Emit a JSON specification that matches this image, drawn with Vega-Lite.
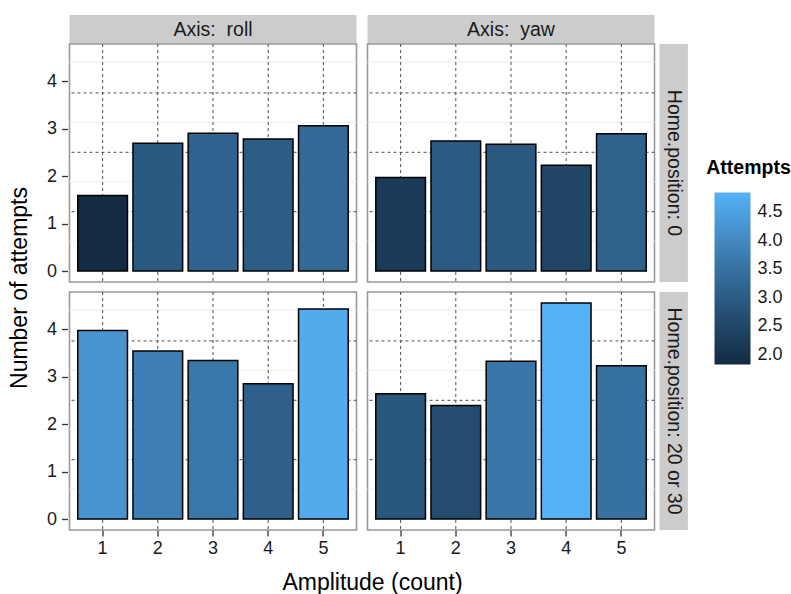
{
  "$schema": "https://vega.github.io/schema/vega-lite/v6.json",
  "padding": {"left": 7.5, "top": 15, "right": 0, "bottom": 0},
  "background": "white",
  "config": {
    "font": "Liberation Sans",
    "view": {"stroke": "#999999", "strokeWidth": 1.6},
    "axis": {"labelFontSize": 18, "labelColor": "#1a1a1a", "tickColor": "#333333", "tickWidth": 1.3, "domain": false, "grid": false, "titleFontSize": 23, "titleFontWeight": "normal", "titleColor": "#000000", "labelFont": "Liberation Sans", "titleFont": "Liberation Sans"},
    "legend": {"labelFont": "Liberation Sans", "titleFont": "Liberation Sans"}
  },
  "datasets": {
    "bars": [
      {"axis": "roll", "home": "0", "amp": 1, "attempts": 1.59},
      {"axis": "roll", "home": "0", "amp": 2, "attempts": 2.69},
      {"axis": "roll", "home": "0", "amp": 3, "attempts": 2.90},
      {"axis": "roll", "home": "0", "amp": 4, "attempts": 2.78},
      {"axis": "roll", "home": "0", "amp": 5, "attempts": 3.06},
      {"axis": "yaw", "home": "0", "amp": 1, "attempts": 1.97},
      {"axis": "yaw", "home": "0", "amp": 2, "attempts": 2.74},
      {"axis": "yaw", "home": "0", "amp": 3, "attempts": 2.67},
      {"axis": "yaw", "home": "0", "amp": 4, "attempts": 2.23},
      {"axis": "yaw", "home": "0", "amp": 5, "attempts": 2.89},
      {"axis": "roll", "home": "20 or 30", "amp": 1, "attempts": 3.97},
      {"axis": "roll", "home": "20 or 30", "amp": 2, "attempts": 3.54},
      {"axis": "roll", "home": "20 or 30", "amp": 3, "attempts": 3.34},
      {"axis": "roll", "home": "20 or 30", "amp": 4, "attempts": 2.85},
      {"axis": "roll", "home": "20 or 30", "amp": 5, "attempts": 4.42},
      {"axis": "yaw", "home": "20 or 30", "amp": 1, "attempts": 2.64},
      {"axis": "yaw", "home": "20 or 30", "amp": 2, "attempts": 2.39},
      {"axis": "yaw", "home": "20 or 30", "amp": 3, "attempts": 3.32},
      {"axis": "yaw", "home": "20 or 30", "amp": 4, "attempts": 4.55},
      {"axis": "yaw", "home": "20 or 30", "amp": 5, "attempts": 3.23}
    ],
    "hgrid": [{"g": 1.25}, {"g": 2.5}, {"g": 3.75}],
    "faint": [{"g": 0.63}, {"g": 1.88}, {"g": 3.13}, {"g": 4.4}]
  },
  "resolve": {"scale": {"fill": "shared"}, "legend": {"fill": "shared"}},
  "columns": 5,
  "spacing": 0,
  "bounds": "flush",
  "align": "each",
  "concat": [
    {"width": 287, "height": 29, "view": {"fill": "#cccccc"}, "data": {"values": [{"t": "Axis:\u00a0 roll"}]}, "mark": {"type": "text", "fontSize": 19.5, "color": "#1a1a1a"}, "encoding": {"text": {"field": "t", "type": "nominal"}}},
    {"width": 10.5, "height": 1, "view": {"stroke": null}, "data": {"values": []}, "mark": "point"},
    {"width": 287, "height": 29, "view": {"fill": "#cccccc"}, "data": {"values": [{"t": "Axis:\u00a0 yaw"}]}, "mark": {"type": "text", "fontSize": 19.5, "color": "#1a1a1a"}, "encoding": {"text": {"field": "t", "type": "nominal"}}},
    {"width": 4.3, "height": 1, "view": {"stroke": null}, "data": {"values": []}, "mark": "point"},
    {"width": 1, "height": 1, "view": {"stroke": null}, "data": {"values": []}, "mark": "point"},

    {"width": 287, "height": 238,
     "layer": [
      {"data": {"name": "faint"}, "mark": {"type": "rule", "stroke": "#f0f0f0", "strokeWidth": 1.2}, "encoding": {"y": {"field": "g", "type": "quantitative", "scale": {"domain": [-0.23, 4.78], "nice": false, "zero": false}, "axis": {"values": [0, 1, 2, 3, 4], "tickSize": 6, "offset": 2, "labelPadding": 5, "title": "Number of attempts", "titleX": -41, "titleY": 243.5, "titleAngle": 270, "titleAlign": "center", "titleBaseline": "alphabetic"}}}},
      {"data": {"name": "hgrid"}, "mark": {"type": "rule", "stroke": "#4d4d4d", "strokeDash": [3, 3], "strokeWidth": 1}, "encoding": {"y": {"field": "g", "type": "quantitative", "scale": {"domain": [-0.23, 4.78], "nice": false, "zero": false}, "axis": {"values": [0, 1, 2, 3, 4], "tickSize": 6, "offset": 2, "labelPadding": 5, "title": "Number of attempts", "titleX": -41, "titleY": 243.5, "titleAngle": 270, "titleAlign": "center", "titleBaseline": "alphabetic"}}}},
      {"data": {"name": "bars"}, "transform": [{"filter": "datum.axis === 'roll' && datum.home === '0'"}], "mark": {"type": "rule", "stroke": "#4d4d4d", "strokeDash": [3, 3], "strokeWidth": 1}, "encoding": {"x": {"field": "amp", "type": "ordinal", "scale": {"domain": [1, 2, 3, 4, 5], "paddingInner": 0.1, "paddingOuter": 0.15}, "axis": null}}},
      {"data": {"name": "bars"}, "transform": [{"filter": "datum.axis === 'roll' && datum.home === '0'"}], "mark": {"type": "bar", "stroke": "#000000", "strokeWidth": 1.5},
       "encoding": {
        "x": {"field": "amp", "type": "ordinal", "scale": {"domain": [1, 2, 3, 4, 5], "paddingInner": 0.1, "paddingOuter": 0.15}, "axis": null},
        "y": {"field": "attempts", "type": "quantitative", "scale": {"domain": [-0.23, 4.78], "nice": false, "zero": false}, "axis": {"values": [0, 1, 2, 3, 4], "tickSize": 6, "offset": 2, "labelPadding": 5, "title": "Number of attempts", "titleX": -41, "titleY": 243.5, "titleAngle": 270, "titleAlign": "center", "titleBaseline": "alphabetic"}},
        "y2": {"datum": 0},
        "fill": {"field": "attempts", "type": "quantitative", "scale": {"domain": [1.59, 4.55], "range": ["#132B43", "#56B1F7"], "interpolate": "lab", "nice": false, "zero": false}, "legend": {"title": "Attempts", "orient": "none", "legendX": 637, "legendY": 144, "values": [1.76, 2.25, 2.74, 3.23, 3.72, 4.22], "labelExpr": "format(datum.value + 0.26, '.1f')", "gradientLength": 172, "gradientThickness": 36, "gradientStrokeWidth": 0, "titleFontSize": 19.5, "titleFontWeight": "bold", "titleColor": "#000000", "titleAnchor": "middle", "titlePadding": 14, "labelFontSize": 18, "labelColor": "#1a1a1a", "labelOffset": 7, "labelOverlap": false}}
       }}
     ]},
    {"width": 10.5, "height": 1, "view": {"stroke": null}, "data": {"values": []}, "mark": "point"},
    {"width": 287, "height": 238,
     "layer": [
      {"data": {"name": "faint"}, "mark": {"type": "rule", "stroke": "#f0f0f0", "strokeWidth": 1.2}, "encoding": {"y": {"field": "g", "type": "quantitative", "scale": {"domain": [-0.23, 4.78], "nice": false, "zero": false}, "axis": null}}},
      {"data": {"name": "hgrid"}, "mark": {"type": "rule", "stroke": "#4d4d4d", "strokeDash": [3, 3], "strokeWidth": 1}, "encoding": {"y": {"field": "g", "type": "quantitative", "scale": {"domain": [-0.23, 4.78], "nice": false, "zero": false}, "axis": null}}},
      {"data": {"name": "bars"}, "transform": [{"filter": "datum.axis === 'yaw' && datum.home === '0'"}], "mark": {"type": "rule", "stroke": "#4d4d4d", "strokeDash": [3, 3], "strokeWidth": 1}, "encoding": {"x": {"field": "amp", "type": "ordinal", "scale": {"domain": [1, 2, 3, 4, 5], "paddingInner": 0.1, "paddingOuter": 0.15}, "axis": null}}},
      {"data": {"name": "bars"}, "transform": [{"filter": "datum.axis === 'yaw' && datum.home === '0'"}], "mark": {"type": "bar", "stroke": "#000000", "strokeWidth": 1.5},
       "encoding": {
        "x": {"field": "amp", "type": "ordinal", "scale": {"domain": [1, 2, 3, 4, 5], "paddingInner": 0.1, "paddingOuter": 0.15}, "axis": null},
        "y": {"field": "attempts", "type": "quantitative", "scale": {"domain": [-0.23, 4.78], "nice": false, "zero": false}, "axis": null},
        "y2": {"datum": 0},
        "fill": {"field": "attempts", "type": "quantitative", "scale": {"domain": [1.59, 4.55], "range": ["#132B43", "#56B1F7"], "interpolate": "lab", "nice": false, "zero": false}, "legend": {"title": "Attempts", "orient": "none", "legendX": 637, "legendY": 144, "values": [1.76, 2.25, 2.74, 3.23, 3.72, 4.22], "labelExpr": "format(datum.value + 0.26, '.1f')", "gradientLength": 172, "gradientThickness": 36, "gradientStrokeWidth": 0, "titleFontSize": 19.5, "titleFontWeight": "bold", "titleColor": "#000000", "titleAnchor": "middle", "titlePadding": 14, "labelFontSize": 18, "labelColor": "#1a1a1a", "labelOffset": 7, "labelOverlap": false}}
       }}
     ]},
    {"width": 4.3, "height": 1, "view": {"stroke": null}, "data": {"values": []}, "mark": "point"},
    {"width": 28.4, "height": 238, "view": {"fill": "#cccccc"}, "data": {"values": [{"t": "Home.position: 0"}]}, "mark": {"type": "text", "fontSize": 19.5, "color": "#1a1a1a", "angle": 90}, "encoding": {"text": {"field": "t", "type": "nominal"}}},

    {"width": 1, "height": 10, "view": {"stroke": null}, "data": {"values": []}, "mark": "point"},
    {"width": 10.5, "height": 1, "view": {"stroke": null}, "data": {"values": []}, "mark": "point"},
    {"width": 1, "height": 10, "view": {"stroke": null}, "data": {"values": []}, "mark": "point"},
    {"width": 4.3, "height": 1, "view": {"stroke": null}, "data": {"values": []}, "mark": "point"},
    {"width": 1, "height": 10, "view": {"stroke": null}, "data": {"values": []}, "mark": "point"},

    {"width": 287, "height": 238,
     "layer": [
      {"data": {"name": "faint"}, "mark": {"type": "rule", "stroke": "#f0f0f0", "strokeWidth": 1.2}, "encoding": {"y": {"field": "g", "type": "quantitative", "scale": {"domain": [-0.23, 4.78], "nice": false, "zero": false}, "axis": {"values": [0, 1, 2, 3, 4], "tickSize": 6, "offset": 2, "labelPadding": 5, "title": null}}}},
      {"data": {"name": "hgrid"}, "mark": {"type": "rule", "stroke": "#4d4d4d", "strokeDash": [3, 3], "strokeWidth": 1}, "encoding": {"y": {"field": "g", "type": "quantitative", "scale": {"domain": [-0.23, 4.78], "nice": false, "zero": false}, "axis": {"values": [0, 1, 2, 3, 4], "tickSize": 6, "offset": 2, "labelPadding": 5, "title": null}}}},
      {"data": {"name": "bars"}, "transform": [{"filter": "datum.axis === 'roll' && datum.home === '20 or 30'"}], "mark": {"type": "rule", "stroke": "#4d4d4d", "strokeDash": [3, 3], "strokeWidth": 1}, "encoding": {"x": {"field": "amp", "type": "ordinal", "scale": {"domain": [1, 2, 3, 4, 5], "paddingInner": 0.1, "paddingOuter": 0.15}, "axis": {"labelAngle": 0, "tickSize": 6, "labelPadding": 3, "offset": 0, "title": "Amplitude (count)", "titleX": 302.5, "titleY": 59, "titleAlign": "center", "titleBaseline": "alphabetic"}}}},
      {"data": {"name": "bars"}, "transform": [{"filter": "datum.axis === 'roll' && datum.home === '20 or 30'"}], "mark": {"type": "bar", "stroke": "#000000", "strokeWidth": 1.5},
       "encoding": {
        "x": {"field": "amp", "type": "ordinal", "scale": {"domain": [1, 2, 3, 4, 5], "paddingInner": 0.1, "paddingOuter": 0.15}, "axis": {"labelAngle": 0, "tickSize": 6, "labelPadding": 3, "offset": 0, "title": "Amplitude (count)", "titleX": 302.5, "titleY": 59, "titleAlign": "center", "titleBaseline": "alphabetic"}},
        "y": {"field": "attempts", "type": "quantitative", "scale": {"domain": [-0.23, 4.78], "nice": false, "zero": false}, "axis": {"values": [0, 1, 2, 3, 4], "tickSize": 6, "offset": 2, "labelPadding": 5, "title": null}},
        "y2": {"datum": 0},
        "fill": {"field": "attempts", "type": "quantitative", "scale": {"domain": [1.59, 4.55], "range": ["#132B43", "#56B1F7"], "interpolate": "lab", "nice": false, "zero": false}, "legend": {"title": "Attempts", "orient": "none", "legendX": 637, "legendY": 144, "values": [1.76, 2.25, 2.74, 3.23, 3.72, 4.22], "labelExpr": "format(datum.value + 0.26, '.1f')", "gradientLength": 172, "gradientThickness": 36, "gradientStrokeWidth": 0, "titleFontSize": 19.5, "titleFontWeight": "bold", "titleColor": "#000000", "titleAnchor": "middle", "titlePadding": 14, "labelFontSize": 18, "labelColor": "#1a1a1a", "labelOffset": 7, "labelOverlap": false}}
       }}
     ]},
    {"width": 10.5, "height": 1, "view": {"stroke": null}, "data": {"values": []}, "mark": "point"},
    {"width": 287, "height": 238,
     "layer": [
      {"data": {"name": "faint"}, "mark": {"type": "rule", "stroke": "#f0f0f0", "strokeWidth": 1.2}, "encoding": {"y": {"field": "g", "type": "quantitative", "scale": {"domain": [-0.23, 4.78], "nice": false, "zero": false}, "axis": null}}},
      {"data": {"name": "hgrid"}, "mark": {"type": "rule", "stroke": "#4d4d4d", "strokeDash": [3, 3], "strokeWidth": 1}, "encoding": {"y": {"field": "g", "type": "quantitative", "scale": {"domain": [-0.23, 4.78], "nice": false, "zero": false}, "axis": null}}},
      {"data": {"name": "bars"}, "transform": [{"filter": "datum.axis === 'yaw' && datum.home === '20 or 30'"}], "mark": {"type": "rule", "stroke": "#4d4d4d", "strokeDash": [3, 3], "strokeWidth": 1}, "encoding": {"x": {"field": "amp", "type": "ordinal", "scale": {"domain": [1, 2, 3, 4, 5], "paddingInner": 0.1, "paddingOuter": 0.15}, "axis": {"labelAngle": 0, "tickSize": 6, "labelPadding": 3, "offset": 0, "title": null}}}},
      {"data": {"name": "bars"}, "transform": [{"filter": "datum.axis === 'yaw' && datum.home === '20 or 30'"}], "mark": {"type": "bar", "stroke": "#000000", "strokeWidth": 1.5},
       "encoding": {
        "x": {"field": "amp", "type": "ordinal", "scale": {"domain": [1, 2, 3, 4, 5], "paddingInner": 0.1, "paddingOuter": 0.15}, "axis": {"labelAngle": 0, "tickSize": 6, "labelPadding": 3, "offset": 0, "title": null}},
        "y": {"field": "attempts", "type": "quantitative", "scale": {"domain": [-0.23, 4.78], "nice": false, "zero": false}, "axis": null},
        "y2": {"datum": 0},
        "fill": {"field": "attempts", "type": "quantitative", "scale": {"domain": [1.59, 4.55], "range": ["#132B43", "#56B1F7"], "interpolate": "lab", "nice": false, "zero": false}, "legend": {"title": "Attempts", "orient": "none", "legendX": 637, "legendY": 144, "values": [1.76, 2.25, 2.74, 3.23, 3.72, 4.22], "labelExpr": "format(datum.value + 0.26, '.1f')", "gradientLength": 172, "gradientThickness": 36, "gradientStrokeWidth": 0, "titleFontSize": 19.5, "titleFontWeight": "bold", "titleColor": "#000000", "titleAnchor": "middle", "titlePadding": 14, "labelFontSize": 18, "labelColor": "#1a1a1a", "labelOffset": 7, "labelOverlap": false}}
       }}
     ]},
    {"width": 4.3, "height": 1, "view": {"stroke": null}, "data": {"values": []}, "mark": "point"},
    {"width": 28.4, "height": 238, "view": {"fill": "#cccccc"}, "data": {"values": [{"t": "Home.position: 20 or 30"}]}, "mark": {"type": "text", "fontSize": 19.5, "color": "#1a1a1a", "angle": 90}, "encoding": {"text": {"field": "t", "type": "nominal"}}}
  ]
}
